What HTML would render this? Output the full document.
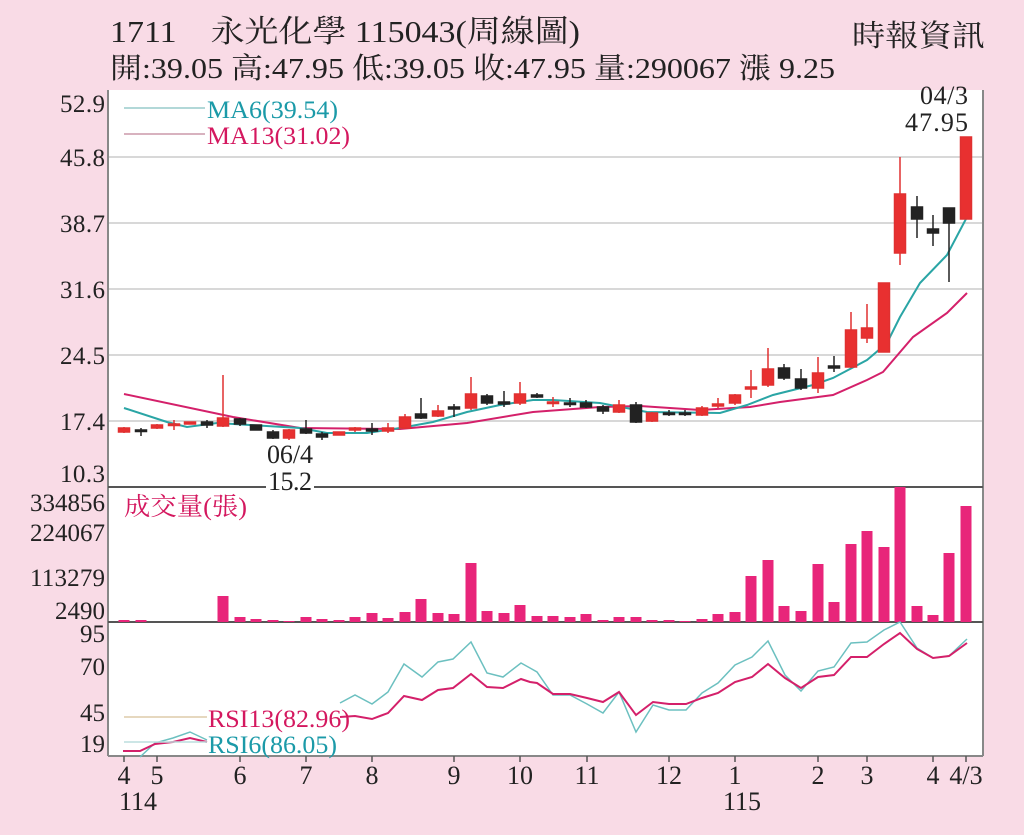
<!DOCTYPE html>
<html><head><meta charset="utf-8"><style>
html,body{margin:0;padding:0;background:#f9dbe6;}
svg{display:block;font-family:"Liberation Serif","Noto Serif CJK SC","Noto Sans CJK TC",serif;}
</style></head><body>
<svg width="1024" height="835" viewBox="0 0 1024 835" xmlns="http://www.w3.org/2000/svg">
<rect width="1024" height="835" fill="#f9dbe6"/>
<text x="110" y="42" font-size="31" fill="#222" textLength="470" lengthAdjust="spacingAndGlyphs">1711　永光化學 115043(周線圖)</text>
<text x="110" y="78" font-size="29" fill="#222" textLength="725" lengthAdjust="spacingAndGlyphs">開:39.05 高:47.95 低:39.05 收:47.95 量:290067 漲 9.25</text>
<text x="852" y="46" font-size="30" fill="#222" textLength="133" lengthAdjust="spacingAndGlyphs">時報資訊</text>
<rect x="108" y="90" width="875" height="666" fill="#fff"/>
<g stroke="#d8d8d8" stroke-width="2">
<line x1="108" y1="157" x2="983" y2="157"/><line x1="108" y1="223" x2="983" y2="223"/>
<line x1="108" y1="289" x2="983" y2="289"/><line x1="108" y1="355" x2="983" y2="355"/>
<line x1="108" y1="421" x2="983" y2="421"/>
</g>
<g stroke="#888" stroke-width="2" fill="none">
<line x1="108" y1="90" x2="108" y2="756"/><line x1="983" y1="90" x2="983" y2="756"/>
<line x1="108" y1="756" x2="983" y2="756"/>
</g>
<line x1="108" y1="487" x2="983" y2="487" stroke="#555" stroke-width="2"/>
<line x1="108" y1="622" x2="983" y2="622" stroke="#555" stroke-width="2"/>
<g font-size="25" fill="#222" lengthAdjust="spacingAndGlyphs">
<text x="60" y="112" textLength="45">52.9</text><text x="60" y="166" textLength="45">45.8</text><text x="60" y="232" textLength="45">38.7</text>
<text x="60" y="298" textLength="45">31.6</text><text x="60" y="364" textLength="45">24.5</text><text x="60" y="430" textLength="45">17.4</text>
<text x="60" y="482" textLength="45">10.3</text>
<text x="30" y="511" textLength="75">334856</text><text x="30" y="541" textLength="75">224067</text><text x="30" y="586" textLength="75">113279</text><text x="55" y="619" textLength="50">2490</text>
<text x="80" y="642" textLength="25">95</text><text x="80" y="675" textLength="25">70</text><text x="80" y="721" textLength="25">45</text><text x="80" y="752" textLength="25">19</text>
</g>
<line x1="124" y1="108" x2="205" y2="108" stroke="#9cc" stroke-width="1.5"/>
<line x1="124" y1="134" x2="205" y2="134" stroke="#c9a" stroke-width="1.5"/>
<text x="207" y="118" font-size="25" fill="#1b9aa8" textLength="131" lengthAdjust="spacingAndGlyphs">MA6(39.54)</text>
<text x="207" y="144" font-size="25" fill="#d4185f" textLength="143" lengthAdjust="spacingAndGlyphs">MA13(31.02)</text>
<polyline fill="none" stroke="#d4206a" stroke-width="2" points="124,394 233,417 300,428 400,429 467,423 533,412 600,407 640,406 700,410 750,407 780,402 833,395 867,380 883,372 913,337 947,313 967,293"/>
<polyline fill="none" stroke="#2aa5a5" stroke-width="2" points="124,408 167,422 187,427 217,423 250,425 300,428 327,433 367,433 400,428 433,422 467,412 500,405 533,400 553,400 600,403 647,412 720,413 747,405 773,395 813,385 833,378 867,360 887,343 900,317 920,283 947,255 967,217"/>
<g stroke-width="1.5">
<g stroke="#e03030" fill="#e83030">
<line x1="124" y1="427" x2="124" y2="433"/><rect x="118.5" y="428" width="11" height="4"/>
<line x1="157" y1="424" x2="157" y2="429"/><rect x="151.5" y="425" width="11" height="3"/>
<line x1="174" y1="420" x2="174" y2="430"/><rect x="168.5" y="424" width="11" height="1.5"/>
<rect x="184.5" y="422" width="11" height="2"/>
<line x1="223" y1="375" x2="223" y2="427"/><rect x="217.5" y="418" width="11" height="8"/>
<line x1="289" y1="429" x2="289" y2="440"/><rect x="283.5" y="430" width="11" height="8"/>
<rect x="333.5" y="432" width="11" height="3"/>
<line x1="355" y1="427" x2="355" y2="432"/><rect x="349.5" y="428" width="11" height="2"/>
<line x1="388" y1="423" x2="388" y2="433"/><rect x="382.5" y="428" width="11" height="3"/>
<line x1="405" y1="414" x2="405" y2="429"/><rect x="399.5" y="417" width="11" height="11"/>
<line x1="438" y1="405" x2="438" y2="417"/><rect x="432.5" y="411" width="11" height="5"/>
<line x1="471" y1="377" x2="471" y2="410"/><rect x="465.5" y="394" width="11" height="14"/>
<line x1="520" y1="382" x2="520" y2="405"/><rect x="514.5" y="394" width="11" height="9"/>
<line x1="553" y1="397" x2="553" y2="407"/><rect x="547.5" y="402" width="11" height="1.5"/>
<line x1="619" y1="400" x2="619" y2="413"/><rect x="613.5" y="405" width="11" height="7"/>
<line x1="652" y1="412" x2="652" y2="422"/><rect x="646.5" y="413" width="11" height="8"/>
<line x1="702" y1="406" x2="702" y2="416"/><rect x="696.5" y="408" width="11" height="7"/>
<line x1="718" y1="398" x2="718" y2="408"/><rect x="712.5" y="404" width="11" height="2"/>
<line x1="735" y1="394" x2="735" y2="405"/><rect x="729.5" y="395" width="11" height="8"/>
<line x1="751" y1="370" x2="751" y2="398"/><rect x="745.5" y="387" width="11" height="2"/>
<line x1="768" y1="348" x2="768" y2="387"/><rect x="762.5" y="369" width="11" height="16"/>
<line x1="818" y1="357" x2="818" y2="393"/><rect x="812.5" y="373" width="11" height="15"/>
<line x1="851" y1="312" x2="851" y2="368"/><rect x="845.5" y="330" width="11" height="37"/>
<line x1="867" y1="304" x2="867" y2="343"/><rect x="861.5" y="328" width="11" height="10"/>
<rect x="878.5" y="283" width="11" height="69"/>
<line x1="900" y1="157" x2="900" y2="265"/><rect x="894.5" y="194" width="11" height="59"/>
<rect x="960.5" y="137" width="11" height="82"/>
</g>
<g stroke="#222" fill="#222">
<line x1="141" y1="428" x2="141" y2="436"/><rect x="135.5" y="430" width="11" height="1.5"/>
<line x1="207" y1="420" x2="207" y2="428"/><rect x="201.5" y="422" width="11" height="3"/>
<line x1="240" y1="418" x2="240" y2="426"/><rect x="234.5" y="419" width="11" height="5"/>
<rect x="250.5" y="425" width="11" height="5"/>
<line x1="273" y1="430" x2="273" y2="439"/><rect x="267.5" y="432" width="11" height="6"/>
<line x1="306" y1="420" x2="306" y2="434"/><rect x="300.5" y="429" width="11" height="4"/>
<line x1="322" y1="432" x2="322" y2="440"/><rect x="316.5" y="434" width="11" height="3"/>
<line x1="372" y1="423" x2="372" y2="435"/><rect x="366.5" y="429" width="11" height="2"/>
<line x1="421" y1="398" x2="421" y2="419"/><rect x="415.5" y="414" width="11" height="4"/>
<line x1="454" y1="404" x2="454" y2="417"/><rect x="448.5" y="407" width="11" height="2"/>
<line x1="487" y1="394" x2="487" y2="405"/><rect x="481.5" y="396" width="11" height="7"/>
<line x1="504" y1="391" x2="504" y2="407"/><rect x="498.5" y="402" width="11" height="2"/>
<line x1="537" y1="393" x2="537" y2="398"/><rect x="531.5" y="395" width="11" height="2"/>
<line x1="570" y1="398" x2="570" y2="407"/><rect x="564.5" y="403" width="11" height="1.5"/>
<line x1="586" y1="400" x2="586" y2="408"/><rect x="580.5" y="403" width="11" height="4"/>
<line x1="603" y1="405" x2="603" y2="414"/><rect x="597.5" y="407" width="11" height="4"/>
<line x1="636" y1="402" x2="636" y2="423"/><rect x="630.5" y="405" width="11" height="17"/>
<line x1="669" y1="410" x2="669" y2="416"/><rect x="663.5" y="413" width="11" height="1.5"/>
<line x1="685" y1="410" x2="685" y2="416"/><rect x="679.5" y="413" width="11" height="1.5"/>
<line x1="784" y1="364" x2="784" y2="380"/><rect x="778.5" y="368" width="11" height="10"/>
<line x1="801" y1="369" x2="801" y2="390"/><rect x="795.5" y="379" width="11" height="9"/>
<line x1="834" y1="356" x2="834" y2="372"/><rect x="828.5" y="366" width="11" height="2"/>
<line x1="917" y1="196" x2="917" y2="238"/><rect x="911.5" y="207" width="11" height="12"/>
<line x1="933" y1="215" x2="933" y2="246"/><rect x="927.5" y="229" width="11" height="4"/>
<line x1="949" y1="208" x2="949" y2="282"/><rect x="943.5" y="208" width="11" height="15"/>
</g>
</g>
<g font-size="26" fill="#222" lengthAdjust="spacingAndGlyphs">
<text x="920" y="104" textLength="48">04/3</text><text x="905" y="131" textLength="63">47.95</text>
<text x="267" y="463" textLength="46">06/4</text>
<rect x="266" y="476" width="48" height="20" fill="#fff"/>
<text x="268" y="490" textLength="44">15.2</text>
</g>
<text x="124" y="515" font-size="25" fill="#d4185f" textLength="123" lengthAdjust="spacingAndGlyphs">成交量(張)</text>
<g fill="#e8257a">
<rect x="118.5" y="620" width="11" height="2"/><rect x="135.5" y="620" width="11" height="2"/>
<rect x="217.5" y="596" width="11" height="26"/><rect x="234.5" y="617" width="11" height="5"/>
<rect x="250.5" y="619" width="11" height="3"/><rect x="267.5" y="620" width="11" height="2"/>
<rect x="283.5" y="621" width="11" height="1"/><rect x="300.5" y="617" width="11" height="5"/>
<rect x="316.5" y="619" width="11" height="3"/><rect x="333.5" y="620" width="11" height="2"/>
<rect x="349.5" y="617" width="11" height="5"/><rect x="366.5" y="613" width="11" height="9"/>
<rect x="382.5" y="618" width="11" height="4"/><rect x="399.5" y="612" width="11" height="10"/>
<rect x="415.5" y="599" width="11" height="23"/><rect x="432.5" y="613" width="11" height="9"/>
<rect x="448.5" y="614" width="11" height="8"/><rect x="465.5" y="563" width="11" height="59"/>
<rect x="481.5" y="611" width="11" height="11"/><rect x="498.5" y="613" width="11" height="9"/>
<rect x="514.5" y="605" width="11" height="17"/><rect x="531.5" y="616" width="11" height="6"/>
<rect x="547.5" y="616" width="11" height="6"/><rect x="564.5" y="617" width="11" height="5"/>
<rect x="580.5" y="614" width="11" height="8"/><rect x="597.5" y="620" width="11" height="2"/>
<rect x="613.5" y="617" width="11" height="5"/><rect x="630.5" y="617" width="11" height="5"/>
<rect x="646.5" y="620" width="11" height="2"/><rect x="663.5" y="620" width="11" height="2"/>
<rect x="679.5" y="621" width="11" height="1"/><rect x="696.5" y="619" width="11" height="3"/>
<rect x="712.5" y="614" width="11" height="8"/><rect x="729.5" y="612" width="11" height="10"/>
<rect x="745.5" y="576" width="11" height="46"/><rect x="762.5" y="560" width="11" height="62"/>
<rect x="778.5" y="606" width="11" height="16"/><rect x="795.5" y="611" width="11" height="11"/>
<rect x="812.5" y="564" width="11" height="58"/><rect x="828.5" y="602" width="11" height="20"/>
<rect x="845.5" y="544" width="11" height="78"/><rect x="861.5" y="531" width="11" height="91"/>
<rect x="878.5" y="547" width="11" height="75"/><rect x="894.5" y="487" width="11" height="135"/>
<rect x="911.5" y="606" width="11" height="16"/><rect x="927.5" y="615" width="11" height="7"/>
<rect x="943.5" y="553" width="11" height="69"/><rect x="960.5" y="506" width="11" height="116"/>
</g>
<polyline fill="none" stroke="#6cc0c0" stroke-width="1.5" points="140,757 155,743 173,738 190,732 207,740"/>
<polyline fill="none" stroke="#d4206a" stroke-width="2" points="123,751 140,751 155,744 173,742 190,738 207,742"/>
<polyline fill="none" stroke="#6cc0c0" stroke-width="1.5" points="340,703 355,695 372,704 388,692 404,664 422,677 438,662 453,659 471,642 487,673 503,677 521,663 530,668 537,672 553,695 570,695 587,704 603,713 619,692 636,732 653,705 669,710 686,710 702,693 718,683 735,665 752,657 768,641 785,675 801,691 818,671 834,667 851,643 867,642 884,630 900,622 917,648 933,658 949,656 967,639"/>
<polyline fill="none" stroke="#d4206a" stroke-width="2" points="340,717 355,716 372,719 388,713 404,696 422,700 438,690 453,688 471,674 487,687 503,688 521,679 530,682 537,683 553,694 570,694 587,698 603,702 619,692 636,715 653,702 669,704 686,704 702,698 718,693 735,682 752,677 768,664 785,678 801,688 818,677 834,675 851,657 867,657 884,644 900,633 917,649 933,658 949,656 967,643"/>
<line x1="124" y1="717" x2="207" y2="717" stroke="#dca" stroke-width="1.5"/>
<line x1="124" y1="742" x2="207" y2="742" stroke="#bdd" stroke-width="1.5"/>
<text x="208" y="727" font-size="25" fill="#d4185f" textLength="142" lengthAdjust="spacingAndGlyphs">RSI13(82.96)</text>
<text x="208" y="753" font-size="25" fill="#1b9aa8" textLength="129" lengthAdjust="spacingAndGlyphs">RSI6(86.05)</text>
<g stroke="#555" stroke-width="1.5">
<line x1="124" y1="756" x2="124" y2="762"/><line x1="157" y1="756" x2="157" y2="762"/><line x1="240" y1="756" x2="240" y2="762"/>
<line x1="306" y1="756" x2="306" y2="762"/><line x1="372" y1="756" x2="372" y2="762"/><line x1="454" y1="756" x2="454" y2="762"/>
<line x1="520" y1="756" x2="520" y2="762"/><line x1="587" y1="756" x2="587" y2="762"/><line x1="669" y1="756" x2="669" y2="762"/>
<line x1="735" y1="756" x2="735" y2="762"/><line x1="818" y1="756" x2="818" y2="762"/><line x1="867" y1="756" x2="867" y2="762"/>
<line x1="933" y1="756" x2="933" y2="762"/><line x1="966" y1="756" x2="966" y2="762"/>
</g>
<g font-size="26" fill="#222" text-anchor="middle">
<text x="124" y="784">4</text><text x="157" y="784">5</text><text x="240" y="784">6</text><text x="306" y="784">7</text>
<text x="372" y="784">8</text><text x="454" y="784">9</text><text x="520" y="784">10</text><text x="587" y="784">11</text>
<text x="669" y="784">12</text><text x="735" y="784">1</text><text x="818" y="784">2</text><text x="867" y="784">3</text>
<text x="933" y="784">4</text><text x="966" y="784">4/3</text>
<text x="138" y="810">114</text><text x="742" y="810">115</text>
</g>
</svg>
</body></html>
